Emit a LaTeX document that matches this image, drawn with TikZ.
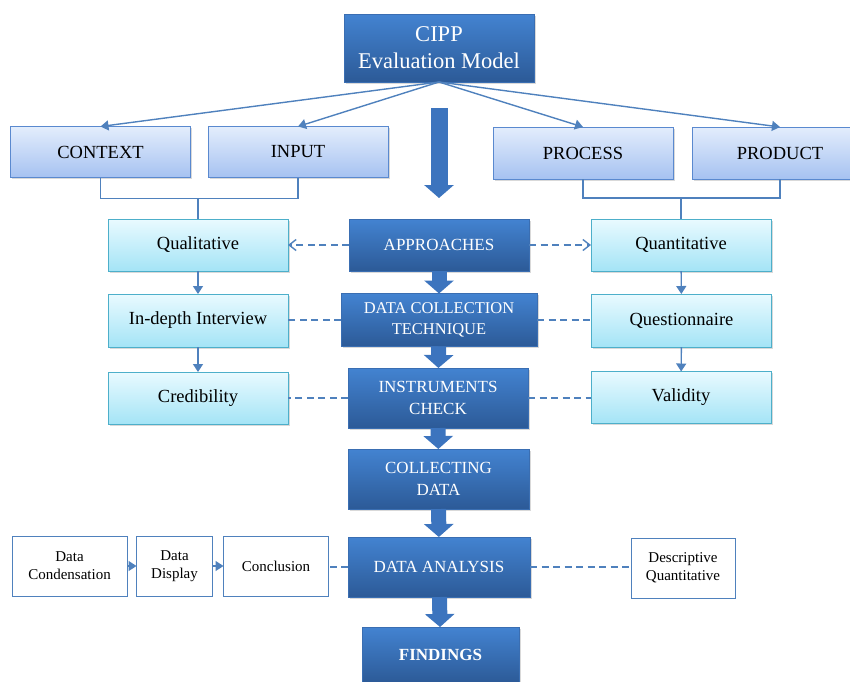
\documentclass[tikz,border=0pt]{standalone}
\usepackage{fontspec}
\setmainfont{Liberation Serif}
\usetikzlibrary{arrows.meta,positioning,shadows}
\definecolor{cippTop}{HTML}{4383D1}
\definecolor{cippBot}{HTML}{2C5A97}
\definecolor{cippEdge}{HTML}{3A6EB2}
\definecolor{compTop}{HTML}{E3EDFC}
\definecolor{compBot}{HTML}{A6C2F1}
\definecolor{compEdge}{HTML}{5A89CF}
\definecolor{sideTop}{HTML}{E9FAFF}
\definecolor{sideBot}{HTML}{A4E4F6}
\definecolor{sideEdge}{HTML}{4DAFCA}
\definecolor{lineBlue}{HTML}{4F81BD}
\definecolor{fatBlue}{HTML}{3C74BE}

\begin{document}
\begin{tikzpicture}[
x=1pt, y=-1pt,
every node/.style={font=\fontsize{18.5}{22}\selectfont, inner sep=2pt, outer sep=0pt},
boxshadow/.style={drop shadow={shadow xshift=1.5pt, shadow yshift=-1.5pt, opacity=0.3}},
darkbox/.style={boxshadow, draw=cippEdge, top color=cippTop, bottom color=cippBot, text=white, align=center, minimum width=180pt, minimum height=60pt, font=\fontsize{17}{22}\selectfont},
compbox/.style={boxshadow, draw=compEdge, semithick, top color=compTop, bottom color=compBot, minimum width=180pt, minimum height=51pt},
sidebox/.style={boxshadow, draw=sideEdge, semithick, top color=sideTop, bottom color=sideBot, minimum width=180pt, minimum height=52pt},
plainbox/.style={draw=lineBlue, semithick, fill=white, align=center, minimum height=60pt, font=\fontsize{15}{18}\selectfont},
conn/.style={draw=lineBlue, line width=1.4pt},
arr/.style={conn, -{Triangle[width=10pt,length=8pt]}},
dline/.style={conn, dash pattern=on 7pt off 4.5pt},
darr/.style={dline, -{Straight Barb[length=7pt,width=11pt]}},
fatlink/.style={draw=fatBlue, line width=15pt, -{Triangle[width=29pt,length=13pt]}}
]
\useasboundingbox (0,0) rectangle (850,681);
\clip (0,0) rectangle (850,681);

% CIPP model and its four parts
\node[darkbox, minimum width=190pt, minimum height=68pt, font=\fontsize{22.5}{27}\selectfont] (cipp) at (439,48) {CIPP\\Evaluation Model};
\node[compbox] (context) at (100.5,152) {CONTEXT};
\node[compbox] (input) at (298,152) {INPUT};
\node[compbox, minimum height=52pt] (process) at (583,153) {PROCESS};
\node[compbox, minimum width=176pt, minimum height=52pt] (product) at (780,153) {PRODUCT};
\draw[arr] (cipp.south) -- (context.north);
\draw[arr] (cipp.south) -- (input.north);
\draw[arr] (cipp.south) -- (process.north);
\draw[arr] (cipp.south) -- (product.north);

% Main research steps
\node[darkbox, minimum height=52pt] (approach) at (439,245) {APPROACHES};
\node[darkbox, minimum width=196pt, minimum height=53pt, font=\fontsize{16.5}{21}\selectfont] (dct) at (439,320) {DATA COLLECTION\\TECHNIQUE};
\node[darkbox] (instr) at (438,398) {INSTRUMENTS\\CHECK};
\node[darkbox, minimum width=181pt] (gather) at (438.5,479) {COLLECTING\\DATA};
\node[darkbox, minimum width=182pt] (analysis) at (439,567) {DATA ANALYSIS};
\node[darkbox, minimum width=157pt, minimum height=56pt] (findings) at (440.5,655) {\textbf{FINDINGS}};
\draw[fatlink, line width=17pt, shorten <=26pt, shorten >=21pt] (cipp.south) -- (approach.north);
\draw[fatlink] (approach) -- (dct);
\draw[fatlink] (dct) -- (instr);
\draw[fatlink] (instr) -- (gather);
\draw[fatlink] (gather) -- (analysis);
\draw[fatlink] (analysis) -- (findings);

% Qualitative side
\node[sidebox] (qual) at (198,245) {Qualitative};
\node[sidebox, minimum height=53pt] (interview) at (198,320.5) {In-depth Interview};
\node[sidebox] (cred) at (198,398) {Credibility};
\draw[conn] (context.south) -- ++(0,21) -| (input.south);
\draw[conn] (qual.north) -- ++(0,-21);
\draw[arr] (qual) -- (interview);
\draw[arr] (interview) -- (cred);

% Quantitative side
\node[sidebox] (quant) at (681,245) {Quantitative};
\node[sidebox, minimum height=53pt] (quest) at (681.5,320.5) {Questionnaire};
\node[sidebox] (valid) at (681,397.5) {Validity};
\draw[conn] (process.south) -- ++(0,19) -| (product.south);
\draw[conn] (quant.north) -- ++(0,-21);
\draw[arr] (quant) -- (quest);
\draw[arr] (quest) -- (valid);

% Links from the steps to both sides
\draw[darr] (approach) -- (qual);
\draw[darr] (approach) -- (quant);
\draw[dline] (dct.west) -- (dct.west -| interview.east);
\draw[dline] (dct.east) -- (dct.east -| quest.west);
\draw[dline] (instr.west) -- (instr.west -| cred.east);
\draw[dline] (instr.east) -- (instr.east -| valid.west);

% Analysis
\node[plainbox, minimum width=115pt] (dcond) at (69.5,566) {Data\\Condensation};
\node[plainbox, minimum width=76pt] (ddisp) at (174.5,566) {Data\\Display};
\node[plainbox, minimum width=105pt] (concl) at (276,566) {Conclusion};
\node[plainbox, minimum width=104pt] (descq) at (683,568) {Descriptive\\Quantitative};
\draw[arr] (dcond) -- (ddisp);
\draw[arr] (ddisp) -- (concl);
\draw[dline] (analysis.west) -- (analysis.west -| concl.east);
\draw[dline] (analysis.east) -- (analysis.east -| descq.west);

\end{tikzpicture}
\end{document}
